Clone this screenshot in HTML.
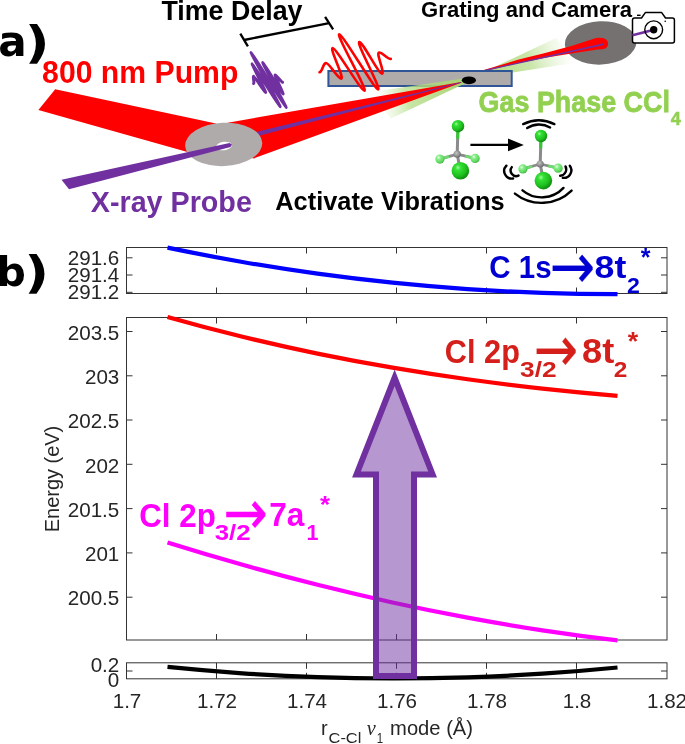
<!DOCTYPE html>
<html><head><meta charset="utf-8"><title>Figure</title>
<style>
html,body{margin:0;padding:0;background:#fff;}
svg{display:block;}
.cal{font-family:"Liberation Sans",sans-serif;font-weight:bold;}
.ax{font-family:"Liberation Sans",sans-serif;fill:#262626;}
.dj{font-family:"DejaVu Sans",sans-serif;font-weight:bold;}
.djr{font-family:"DejaVu Sans",sans-serif;}
.ser{font-family:"Liberation Serif","DejaVu Serif",serif;font-style:italic;}
</style></head><body>
<svg width="685" height="744" viewBox="0 0 685 744">
<defs>
<linearGradient id="glowL" gradientUnits="userSpaceOnUse" x1="463" y1="81" x2="378" y2="105">
<stop offset="0" stop-color="#a9d474" stop-opacity="1"/><stop offset="0.65" stop-color="#b4dc86" stop-opacity="0.75"/><stop offset="1" stop-color="#cfe8b0" stop-opacity="0"/></linearGradient>
<linearGradient id="glowR" gradientUnits="userSpaceOnUse" x1="468" y1="79.5" x2="570" y2="50">
<stop offset="0" stop-color="#a9d474" stop-opacity="1"/><stop offset="0.6" stop-color="#b4dc86" stop-opacity="0.72"/><stop offset="1" stop-color="#cfe8b0" stop-opacity="0"/></linearGradient>
<radialGradient id="clA" cx="0.36" cy="0.32" r="0.72"><stop offset="0" stop-color="#9dff9d"/><stop offset="0.22" stop-color="#36e036"/><stop offset="0.65" stop-color="#1fc01f"/><stop offset="1" stop-color="#0d860d"/></radialGradient>
<radialGradient id="clB" cx="0.36" cy="0.32" r="0.72"><stop offset="0" stop-color="#e6ffe6"/><stop offset="0.3" stop-color="#8aee8a"/><stop offset="0.75" stop-color="#5fd85f"/><stop offset="1" stop-color="#42b042"/></radialGradient>
<radialGradient id="cC" cx="0.4" cy="0.35" r="0.7"><stop offset="0" stop-color="#c4c4c4"/><stop offset="1" stop-color="#666"/></radialGradient>
<g id="mol">
 <line x1="0" y1="0" x2="-17.3" y2="4.9" stroke="#8a8a8a" stroke-width="2.8"/>
 <line x1="-8" y1="2.3" x2="-17.3" y2="4.9" stroke="#6fd86f" stroke-width="2.8"/>
 <line x1="0" y1="0" x2="17.9" y2="4.2" stroke="#8a8a8a" stroke-width="2.8"/>
 <line x1="8" y1="1.9" x2="17.9" y2="4.2" stroke="#6fd86f" stroke-width="2.8"/>
 <circle cx="-17.3" cy="4.9" r="4.6" fill="url(#clB)"/>
 <circle cx="17.9" cy="4.2" r="4.6" fill="url(#clB)"/>
 <line x1="0" y1="0" x2="0.8" y2="-28" stroke="#8a8a8a" stroke-width="3"/>
 <line x1="0.45" y1="-15.5" x2="0.8" y2="-28" stroke="#35c835" stroke-width="3"/>
 <circle cx="0.8" cy="-28" r="6.2" fill="url(#clA)"/>
 <line x1="0" y1="0" x2="3.2" y2="16.6" stroke="#8a8a8a" stroke-width="3"/>
 <circle cx="0" cy="0" r="3.6" fill="url(#cC)"/>
 <circle cx="3.2" cy="16.6" r="8.8" fill="url(#clA)"/>
</g>
</defs>
<rect width="685" height="744" fill="#fff"/>

<!-- ===== panel a ===== -->
<text class="dj" transform="translate(-1.69,56.16) scale(0.9895,1)" font-size="42.61" fill="#000">a</text>
<text class="dj" transform="translate(24.84,58.12) scale(1.2465,1)" font-size="43.71" fill="#000">)</text>

<!-- right side (behind gas cell) -->
<polygon points="468,79.5 556,38 580,62" fill="url(#glowR)"/>
<!-- dark grating ellipse -->
<ellipse cx="600.6" cy="42.9" rx="35.8" ry="21.7" fill="#767171" transform="rotate(-2.5 600.6 42.9)"/>
<path d="M483,70.3 L518.8,59.6 L545.1,52.9 L571.4,46 L596,38.1 Q601,36.9 605.5,39 A5.6,5.6 0 0 1 605.5,48.4 Q603,49.4 597.6,49.6 L571.4,53.4 L545.1,57.8 L518.8,63 L483,71.5 Z" fill="#ff0000"/>
<polygon points="483,70.3 603.6,43.3 604.1,45.1 483,71.5" fill="#7030a0"/>
<!-- gas cell -->
<rect x="328.4" y="71" width="183.3" height="15" fill="#afabab" stroke="#2f5597" stroke-width="2"/>
<!-- left glow (in front of gas cell) -->
<polygon points="462,78.8 367,92.5 391,118.5 464.3,83.7" fill="url(#glowL)"/>
<!-- red beams -->
<polygon points="55.2,89.3 38.4,110.1 191,153 222,150 216,123.5" fill="#ff0000"/>
<polygon points="227.7,122.7 461.3,81.9 461.3,82.7 253.9,158.4 222,150" fill="#ff0000"/>
<!-- purple probe after mirror -->
<polygon points="256,131.9 461.3,81.9 461.3,82.7 257,136.3" fill="#7030a0"/>
<!-- mirror -->
<ellipse cx="223.7" cy="144.4" rx="38.6" ry="21.7" fill="#afabab" transform="rotate(-2.5 223.7 144.4)"/>
<ellipse cx="224" cy="146" rx="7.8" ry="4.2" fill="#fff" transform="rotate(-8 224 146)"/>
<!-- purple incoming -->
<polygon points="61.5,179.7 69,189.2 230.5,147 232,144.6 229.5,143" fill="#7030a0"/>
<!-- focus -->
<ellipse cx="468.9" cy="80.3" rx="7.1" ry="3.9" fill="#000"/>
<!-- camera -->
<line x1="632" y1="35.2" x2="652" y2="30" stroke="#7030a0" stroke-width="2.2"/>
<path d="M634.5,18 H641.5 L645.5,12.4 H661.5 L665.5,18 H672.4 Q674.4,18 674.4,20 V41 Q674.4,43 672.4,43 H634.5 Q632.5,43 632.5,41 V20 Q632.5,18 634.5,18 Z" fill="#fff" stroke="#000" stroke-width="1.5" stroke-linejoin="round"/>
<path d="M632.5,35.2 L652,30.2" stroke="#7030a0" stroke-width="2.6" fill="none"/>
<circle cx="653.7" cy="29.8" r="8.9" fill="none" stroke="#000" stroke-width="1.4"/>
<circle cx="653.7" cy="29.8" r="3.7" fill="#000"/>
<circle cx="665.2" cy="21.3" r="0.8" fill="#000"/>
<rect x="637" y="14.6" width="3.6" height="1.4" fill="#000"/>
<!-- time delay bracket -->
<g stroke="#000" stroke-width="2.3" fill="none" stroke-linecap="butt">
<line x1="240.3" y1="33.6" x2="247.9" y2="46.3"/><line x1="325.1" y1="16.8" x2="333.1" y2="29.4"/><line x1="244.1" y1="40" x2="329.1" y2="23.1"/>
</g>
<!-- pulses -->
<path d="M253.6,83.6 C254.6,83.5 252.7,76.3 253.7,76.3 C254.7,76.2 264.6,92.5 265.6,92.5 C266.6,92.4 251.2,63.8 252.2,63.8 C253.2,63.7 279.1,106.8 280.1,106.8 C281.1,106.7 250.1,52.5 251.1,52.4 C252.1,52.4 285.1,107.7 286.1,107.6 C287.1,107.6 261.8,62.6 262.8,62.5 C263.8,62.5 282.0,94.1 283.0,94.1 C284.0,94.0 274.2,74.9 275.2,74.9 C276.2,74.8 281.6,82.3 282.6,82.3" fill="none" stroke="#7030a0" stroke-width="3" stroke-linecap="round" stroke-linejoin="round"/>
<path d="M319.5,72.3 C322.7,71.7 322.6,63.7 325.8,63.1 C329.0,62.5 338.1,79.2 341.3,78.6 C344.5,78.0 329.4,48.6 332.6,48.0 C335.8,47.4 361.3,91.3 364.5,90.7 C367.7,90.1 336.0,34.8 339.2,34.2 C342.4,33.6 374.9,90.0 378.1,89.4 C381.3,88.8 356.1,42.7 359.3,42.1 C362.5,41.5 378.8,74.2 382.0,73.6 C385.2,73.0 375.8,53.2 379.0,52.6 C382.2,52.0 387.6,59.5 390.8,58.9" fill="none" stroke="#ff0000" stroke-width="2.6" stroke-linecap="round" stroke-linejoin="round"/>

<!-- texts -->
<text class="cal" transform="translate(42.09,83.30) scale(0.9516,1)" font-size="31.74" fill="#ff0000">800 nm Pump</text>
<text class="cal" transform="translate(161.43,20.40) scale(0.9793,1)" font-size="27.39" fill="#000">Time Delay</text>
<text class="cal" transform="translate(421.12,16.60) scale(0.9642,1)" font-size="22.90" fill="#000">Grating and Camera</text>
<text class="cal" transform="translate(478.62,112.40) scale(0.8837,1)" font-size="30.43" fill="#92d050" stroke="#92d050" stroke-width="0.8">Gas Phase CCl</text>
<text class="cal" transform="translate(670.83,125.10) scale(0.9477,1)" font-size="19.13" fill="#92d050" stroke="#92d050" stroke-width="0.5">4</text>
<text class="cal" transform="translate(90.81,211.50) scale(0.9706,1)" font-size="29.57" fill="#7030a0">X-ray Probe</text>
<text class="cal" transform="translate(275.27,209.80) scale(0.9835,1)" font-size="25.80" fill="#000">Activate Vibrations</text>

<!-- molecules -->
<use href="#mol" x="457.2" y="154.2"/>
<use href="#mol" x="540.2" y="164"/>
<line x1="470.4" y1="144.9" x2="510" y2="144.9" stroke="#000" stroke-width="2.3"/>
<polygon points="508,138.6 523.8,144.9 508,151.2" fill="#000"/>
<g fill="none" stroke="#000" stroke-width="2.4" stroke-linecap="round">
<path d="M523.2,124.1 A35.6,35.6 0 0 1 554.4,124.1"/><path d="M527.2,128.1 A21.5,21.5 0 0 1 550.1,127.5"/>
<path d="M506.4,165.7 A7.6,7.6 0 0 0 513.1,178.5"/><path d="M511.8,167.1 A5.6,5.6 0 0 0 518.5,175.6"/>
<path d="M569.8,165.7 A7.6,7.6 0 0 1 562.8,177.8"/><path d="M565.5,166.4 A6.5,6.5 0 0 1 560.2,175.8"/>
<path d="M522.5,190.3 A29.8,29.8 0 0 0 563.5,187.9"/><path d="M514.9,193.6 A43,43 0 0 0 571.6,190.6"/>
</g>

<!-- ===== panel b ===== -->
<text class="dj" transform="translate(-3.49,285.90) scale(1.0191,1)" font-size="40.26" fill="#000">b</text>
<text class="dj" transform="translate(24.24,288.29) scale(1.2401,1)" font-size="43.93" fill="#000">)</text>
<g id="axes" fill="none" stroke="#333" stroke-width="1">
<rect x="126.5" y="247.5" width="540.5" height="46"/>
<rect x="126.5" y="317.5" width="540.5" height="322.5"/>
<rect x="126.5" y="662.8" width="540.5" height="16"/>
</g>
<g id="ticks" stroke="#333" stroke-width="1" fill="none">
<line x1="216.5" y1="247.5" x2="216.5" y2="253.5"/>
<line x1="216.5" y1="293.5" x2="216.5" y2="287.5"/>
<line x1="216.5" y1="317.5" x2="216.5" y2="323.5"/>
<line x1="216.5" y1="640" x2="216.5" y2="634"/>
<line x1="216.5" y1="662.8" x2="216.5" y2="668.8"/>
<line x1="216.5" y1="678.8" x2="216.5" y2="672.8"/>
<line x1="306.5" y1="247.5" x2="306.5" y2="253.5"/>
<line x1="306.5" y1="293.5" x2="306.5" y2="287.5"/>
<line x1="306.5" y1="317.5" x2="306.5" y2="323.5"/>
<line x1="306.5" y1="640" x2="306.5" y2="634"/>
<line x1="306.5" y1="662.8" x2="306.5" y2="668.8"/>
<line x1="306.5" y1="678.8" x2="306.5" y2="672.8"/>
<line x1="396.5" y1="247.5" x2="396.5" y2="253.5"/>
<line x1="396.5" y1="293.5" x2="396.5" y2="287.5"/>
<line x1="396.5" y1="317.5" x2="396.5" y2="323.5"/>
<line x1="396.5" y1="640" x2="396.5" y2="634"/>
<line x1="396.5" y1="662.8" x2="396.5" y2="668.8"/>
<line x1="396.5" y1="678.8" x2="396.5" y2="672.8"/>
<line x1="486.5" y1="247.5" x2="486.5" y2="253.5"/>
<line x1="486.5" y1="293.5" x2="486.5" y2="287.5"/>
<line x1="486.5" y1="317.5" x2="486.5" y2="323.5"/>
<line x1="486.5" y1="640" x2="486.5" y2="634"/>
<line x1="486.5" y1="662.8" x2="486.5" y2="668.8"/>
<line x1="486.5" y1="678.8" x2="486.5" y2="672.8"/>
<line x1="576.5" y1="247.5" x2="576.5" y2="253.5"/>
<line x1="576.5" y1="293.5" x2="576.5" y2="287.5"/>
<line x1="576.5" y1="317.5" x2="576.5" y2="323.5"/>
<line x1="576.5" y1="640" x2="576.5" y2="634"/>
<line x1="576.5" y1="662.8" x2="576.5" y2="668.8"/>
<line x1="576.5" y1="678.8" x2="576.5" y2="672.8"/>
<line x1="126.5" y1="331.5" x2="132.5" y2="331.5"/>
<line x1="667" y1="331.5" x2="661" y2="331.5"/>
<line x1="126.5" y1="375.8" x2="132.5" y2="375.8"/>
<line x1="667" y1="375.8" x2="661" y2="375.8"/>
<line x1="126.5" y1="420.0" x2="132.5" y2="420.0"/>
<line x1="667" y1="420.0" x2="661" y2="420.0"/>
<line x1="126.5" y1="464.3" x2="132.5" y2="464.3"/>
<line x1="667" y1="464.3" x2="661" y2="464.3"/>
<line x1="126.5" y1="508.6" x2="132.5" y2="508.6"/>
<line x1="667" y1="508.6" x2="661" y2="508.6"/>
<line x1="126.5" y1="552.9" x2="132.5" y2="552.9"/>
<line x1="667" y1="552.9" x2="661" y2="552.9"/>
<line x1="126.5" y1="597.2" x2="132.5" y2="597.2"/>
<line x1="667" y1="597.2" x2="661" y2="597.2"/>
<line x1="126.5" y1="257.8" x2="132.5" y2="257.8"/>
<line x1="667" y1="257.8" x2="661" y2="257.8"/>
<line x1="126.5" y1="275.0" x2="132.5" y2="275.0"/>
<line x1="667" y1="275.0" x2="661" y2="275.0"/>
<line x1="126.5" y1="292.3" x2="132.5" y2="292.3"/>
<line x1="667" y1="292.3" x2="661" y2="292.3"/>
<line x1="126.5" y1="671" x2="132.5" y2="671"/>
<line x1="667" y1="671" x2="661" y2="671"/>
</g>
<g class="ax" font-size="20.6">
<text x="119.3" y="339.7" text-anchor="end">203.5</text>
<text x="119.3" y="384.0" text-anchor="end">203</text>
<text x="119.3" y="428.2" text-anchor="end">202.5</text>
<text x="119.3" y="472.5" text-anchor="end">202</text>
<text x="119.3" y="516.8" text-anchor="end">201.5</text>
<text x="119.3" y="561.1" text-anchor="end">201</text>
<text x="119.3" y="605.4" text-anchor="end">200.5</text>
<text x="119.3" y="264.9" text-anchor="end">291.6</text>
<text x="119.3" y="281.9" text-anchor="end">291.4</text>
<text x="119.3" y="299.4" text-anchor="end">291.2</text>
<text x="119.3" y="671.8" text-anchor="end">0.2</text>
<text x="119.3" y="687.2" text-anchor="end">0</text>
<text x="127" y="707.7" text-anchor="middle">1.7</text>
<text x="217" y="707.7" text-anchor="middle">1.72</text>
<text x="307" y="707.7" text-anchor="middle">1.74</text>
<text x="397" y="707.7" text-anchor="middle">1.76</text>
<text x="487" y="707.7" text-anchor="middle">1.78</text>
<text x="577" y="707.7" text-anchor="middle">1.8</text>
<text x="667" y="707.7" text-anchor="middle">1.82</text>
<text transform="translate(59,530.6) rotate(-90) translate(-1.60,0) scale(0.9551,1)" font-size="20.9">Energy (eV)</text>
<text class="ax" transform="translate(321.10,734.60) scale(1.0000,1)" font-size="20.00">r</text>
<text class="ax" transform="translate(328.58,742.90) scale(1.0570,1)" font-size="15.50">C-Cl</text>
<text class="ser" transform="translate(366.80,734.58) scale(0.9323,1)" font-size="21.70">ν</text>
<text class="ax" transform="translate(376.64,742.90) scale(0.7416,1)" font-size="15.50">1</text>
<text class="ax" transform="translate(390.09,734.60) scale(1.0088,1)" font-size="20.00">mode (Å)</text>
</g>
<!-- curves -->
<g fill="none" stroke-width="4.2">
<path d="M167.5,247.65 C192.5,252.87 217.5,257.65 242.5,261.98 C267.5,266.32 292.5,270.21 317.5,273.66 C342.5,277.11 367.5,280.12 392.5,282.69 C417.5,285.26 442.5,287.39 467.5,289.09 C492.5,290.79 517.5,292.05 542.5,292.87 C567.5,293.70 592.5,294.09 617.5,294.06" stroke="#0000ff"/>
<path d="M167.5,316.97 C192.5,324.08 217.5,330.66 242.5,336.75 C267.5,342.84 292.5,348.44 317.5,353.59 C342.5,358.73 367.5,363.42 392.5,367.69 C417.5,371.96 442.5,375.81 467.5,379.28 C492.5,382.75 517.5,385.84 542.5,388.58 C567.5,391.32 592.5,393.72 617.5,395.81" stroke="#ff0000"/>
<path d="M167.5,542.54 C192.5,550.34 217.5,557.77 242.5,564.82 C267.5,571.87 292.5,578.54 317.5,584.81 C342.5,591.08 367.5,596.96 392.5,602.44 C417.5,607.91 442.5,612.97 467.5,617.62 C492.5,622.27 517.5,626.50 542.5,630.30 C567.5,634.09 592.5,637.46 617.5,640.39" stroke="#ff00ff"/>
<path d="M167.5,666.91 C192.5,669.45 217.5,671.57 242.5,673.28 C267.5,674.98 292.5,676.26 317.5,677.13 C342.5,678.00 367.5,678.45 392.5,678.49 C417.5,678.52 442.5,678.13 467.5,677.33 C492.5,676.53 517.5,675.31 542.5,673.67 C567.5,672.04 592.5,669.98 617.5,667.51" stroke="#000"/>
</g>
<!-- big arrow -->
<path d="M376,676 V474.5 H356.5 L394.6,377.8 L432.6,474.5 H414 V676 Z" fill="#7030a0" fill-opacity="0.5" stroke="#7030a0" stroke-width="6" stroke-linejoin="miter" stroke-miterlimit="10"/>

<!-- curve labels -->
<g fill="#0000d2">
<text class="cal" transform="translate(489.32,278.30) scale(0.9389,1)" font-size="31.43">C 1s</text>
<text class="djr" transform="translate(549.41,287.71) scale(0.8630,1)" font-size="63.06" stroke="#0000d2" stroke-width="0.25">→</text>
<text class="cal" transform="translate(594.53,278.30) scale(1.1372,1)" font-size="31.43">8t</text>
<text class="cal" transform="translate(627.09,292.50) scale(1.0311,1)" font-size="22.43">2</text>
<text class="cal" transform="translate(640.67,266.36) scale(1.0054,1)" font-size="24.86">*</text>
</g>
<g fill="#d41f1a">
<text class="cal" transform="translate(444.87,362.80) scale(0.9029,1)" font-size="34.00">Cl 2p</text>
<text class="cal" transform="translate(520.04,376.70) scale(1.1636,1)" font-size="22.57">3/2</text>
<text class="djr" transform="translate(533.68,370.63) scale(0.8383,1)" font-size="63.29" stroke="#d41f1a" stroke-width="0.25">→</text>
<text class="cal" transform="translate(582.01,363.10) scale(1.0518,1)" font-size="34.43">8t</text>
<text class="cal" transform="translate(613.85,376.60) scale(1.1152,1)" font-size="21.86">2</text>
<text class="cal" transform="translate(627.77,350.12) scale(1.0454,1)" font-size="25.68">*</text>
</g>
<g fill="#ff00ff">
<text class="cal" transform="translate(139.25,526.90) scale(0.9333,1)" font-size="33.57">Cl 2p</text>
<text class="cal" transform="translate(214.65,540.30) scale(1.1966,1)" font-size="21.57">3/2</text>
<text class="djr" transform="translate(223.27,534.41) scale(0.8564,1)" font-size="62.12" stroke="#ff00ff" stroke-width="0.25">→</text>
<text class="cal" transform="translate(269.14,526.40) scale(0.9726,1)" font-size="32.46">7a</text>
<text class="cal" transform="translate(306.41,540.40) scale(0.9755,1)" font-size="22.03">1</text>
<text class="cal" transform="translate(319.97,513.02) scale(1.0968,1)" font-size="23.51">*</text>
</g>
</svg>
</body></html>
